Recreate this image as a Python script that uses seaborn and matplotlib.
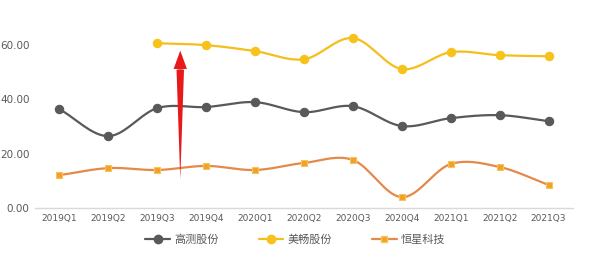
import numpy as np
import pandas as pd
import matplotlib
matplotlib.use("Agg")
import matplotlib.pyplot as plt
import seaborn as sns
from matplotlib.lines import Line2D

quarters = ["2019Q1", "2019Q2", "2019Q3", "2019Q4", "2020Q1", "2020Q2",
            "2020Q3", "2020Q4", "2021Q1", "2021Q2", "2021Q3"]
gaoce = [36.4, 26.5, 36.8, 37.2, 39.0, 35.3, 37.5, 30.2, 33.1, 34.2, 32.0]
meichang = [np.nan, np.nan, 60.7, 60.0, 57.8, 54.8, 62.6, 51.2, 57.4, 56.3, 55.9]
hengxing = [12.1, 14.7, 14.0, 15.5, 14.0, 16.6, 17.7, 4.0, 16.2, 15.1, 8.5]
names = ["高测股份", "美畅股份", "恒星科技"]
yticks = [0, 20, 40, 60]

sns.set_theme(style="white")
plt.rcParams['font.family'] = ['Noto Sans CJK SC', 'DejaVu Sans']

fig = plt.figure(figsize=(5.91, 2.59), dpi=100)
ax = fig.add_axes([35/591, 1-208/259, 538/591, 190/259])

def smooth(xs, ys, n=20):
    # Catmull-Rom rendering of the curve through the data points
    xs = np.asarray(xs, float); ys = np.asarray(ys, float)
    px = np.concatenate([[2*xs[0]-xs[1]], xs, [2*xs[-1]-xs[-2]]])
    py = np.concatenate([[2*ys[0]-ys[1]], ys, [2*ys[-1]-ys[-2]]])
    ox, oy = [], []
    for i in range(1, len(px)-2):
        t = np.linspace(0, 1, n, endpoint=False)
        for P, out in ((px, ox), (py, oy)):
            p0, p1, p2, p3 = P[i-1], P[i], P[i+1], P[i+2]
            out.extend(0.5*((2*p1) + (-p0+p2)*t + (2*p0-5*p1+4*p2-p3)*t**2 + (-p0+3*p1-3*p2+p3)*t**3))
    ox.append(xs[-1]); oy.append(ys[-1])
    return np.array(ox), np.array(oy)

styles = [
    dict(color="#595959", marker="o", mfc="#595959", mec="#595959", ms=6),
    dict(color="#F5BE1C", marker="o", mfc="#F7C31A", mec="#F7C31A", ms=6),
    dict(color="#E5894A", marker="s", mfc="#F0A12A", mec="#F7C45A", ms=4.5),
]
series = [gaoce, meichang, hengxing]
x_all = np.arange(len(quarters))
handles = []
for name, vals, st in zip(names, series, styles):
    v = np.array(vals, float)
    m = ~np.isnan(v)
    sx, sy = smooth(x_all[m], v[m])
    ax.plot(sx, sy, color=st["color"], lw=1.6, zorder=2)
    df = pd.DataFrame({"x": x_all[m], "y": v[m]})
    sns.scatterplot(data=df, x="x", y="y", ax=ax, marker=st["marker"], s=st["ms"]**2,
                    color=st["mfc"], edgecolor=st["mec"], linewidth=0.8, zorder=3, legend=False)
    handles.append(Line2D([0], [0], color=st["color"], lw=1.6, marker=st["marker"],
                          mfc=st["mfc"], mec=st["mec"], ms=st["ms"]))

# red arrow annotation
ax.annotate("", xy=(2.47, 9.5), xytext=(2.47, 52),
            arrowprops=dict(arrowstyle="wedge,tail_width=0.45,shrink_factor=0.5",
                            color="#E8191B", lw=0), zorder=5)
ax.annotate("", xy=(2.47, 59.0), xytext=(2.47, 50),
            arrowprops=dict(arrowstyle="simple,head_width=0.8,head_length=1.1,tail_width=0.25",
                            color="#E8191B", lw=0), zorder=5)

ax.set_xlim(-0.5, len(quarters)-0.5)
ax.set_ylim(0, 70)
ax.set_yticks(yticks)
ax.set_yticklabels([f"{t:.2f}" for t in yticks], color="#595959", fontsize=7.5, family=["DejaVu Sans"])
ax.set_xticks(x_all)
ax.set_xticklabels(quarters, color="#595959", fontsize=6.5, family=["DejaVu Sans"])
ax.tick_params(axis="both", length=0, pad=4)
ax.set_xlabel(""); ax.set_ylabel("")
for s in ["top", "right", "left"]:
    ax.spines[s].set_visible(False)
ax.spines["bottom"].set_color("#D9D9D9")
ax.spines["bottom"].set_linewidth(1)

fig.legend(handles, names, loc="center", bbox_to_anchor=(0.5, 1-240/259), ncol=3, frameon=False,
           fontsize=8, handlelength=2.2, columnspacing=3.6, handletextpad=0.4, labelcolor="#595959")

fig.savefig("out.png", dpi=100)
